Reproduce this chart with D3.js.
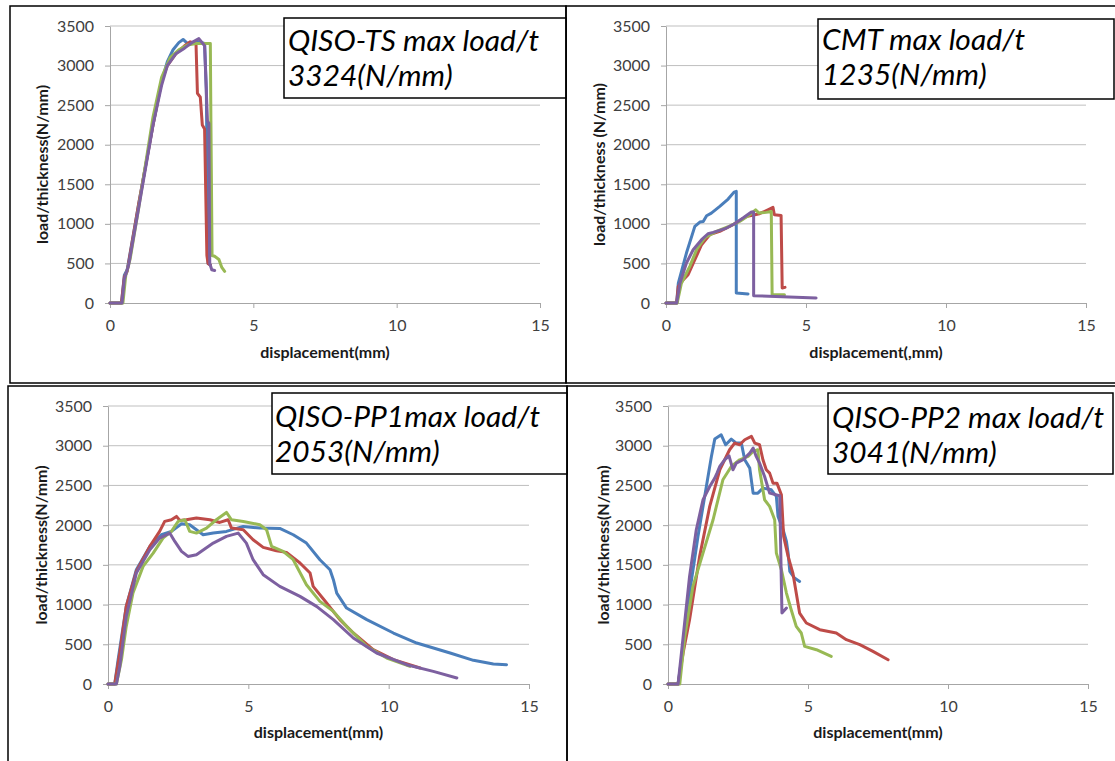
<!DOCTYPE html>
<html>
<head>
<meta charset="utf-8">
<script src="https://cdn.jsdelivr.net/npm/d3@7"></script>
<style>
	body { margin: 0; background: #fff; }
	svg { display: block; font-family: Lato, "Open Sans", sans-serif; }
	.axis .tick text { fill: #404040; font-size: 16px; font-family: Lato, sans-serif; }
	.axis path, .axis line { stroke: #a6a6a6; }
	.grid line { stroke: #bfbfbf; stroke-width: 1; }
	.axis-title { font-weight: bold; font-size: 16px; fill: #1a1a1a; }
	.frame { fill: none; stroke: #000; stroke-width: 1.5; }
	.title-box rect { fill: #fff; stroke: #000; stroke-width: 1.5; }
	.title-box text { font-style: italic; font-size: 29px; fill: #000; }
	.series { fill: none; stroke-width: 3; stroke-linejoin: round; stroke-linecap: round; }
</style>
</head>
<body>
<svg id="chart" width="1115" height="761"></svg>
<script>
// tick labels
const xTicks = [0, 5, 10, 15];
const yTicks = [0, 500, 1000, 1500, 2000, 2500, 3000, 3500];
const seriesColors = ["#4a7ebb", "#be4b48", "#98b954", "#7d60a0"];

// QISO-TS  [displacement, load/thickness]
const tsBlue = [[0,0],[0.4,0],[0.5,350],[0.6,420],[1.0,1250],[1.5,2250],[1.8,2800],[2.0,3050],[2.2,3200],[2.4,3290],[2.55,3330],[2.7,3280],[2.9,3290],[3.1,3300],[3.3,3280],[3.36,2700],[3.42,500],[3.5,480]];
const tsRed = [[0,0],[0.4,0],[0.5,330],[0.6,400],[1.0,1250],[1.5,2250],[1.8,2800],[2.0,3000],[2.3,3150],[2.6,3250],[2.8,3300],[3.0,3280],[3.05,2650],[3.15,2600],[3.22,2250],[3.3,2200],[3.38,600],[3.42,500],[3.5,480]];
const tsGreen = [[0,0],[0.45,0],[0.55,350],[0.7,550],[1.0,1200],[1.5,2350],[1.8,2850],[2.1,3100],[2.4,3200],[2.7,3260],[3.0,3280],[3.5,3280],[3.52,2300],[3.56,600],[3.65,590],[3.8,550],[3.9,450],[4.0,400]];
const tsPurple = [[0,0],[0.42,0],[0.5,300],[0.65,480],[1.0,1200],[1.5,2250],[1.8,2750],[2.0,3000],[2.3,3150],[2.6,3220],[2.9,3300],[3.1,3340],[3.3,3250],[3.4,2300],[3.45,2270],[3.48,500],[3.55,420],[3.65,410]];

// CMT
const cmtBlue = [[0,0],[0.38,0],[0.44,252],[0.73,631],[1.03,968],[1.21,1023],[1.33,1031],[1.45,1103],[1.62,1136],[1.92,1220],[2.22,1313],[2.43,1401],[2.51,1410],[2.51,126],[2.93,114]];
const cmtRed = [[0,0],[0.38,0],[0.44,210],[0.62,295],[0.79,358],[1.03,547],[1.27,736],[1.56,863],[1.92,905],[2.39,989],[2.87,1094],[3.34,1128],[3.64,1178],[3.82,1208],[3.87,1115],[4.11,1107],[4.15,189],[4.25,198]];
const cmtGreen = [[0,0],[0.4,0],[0.55,250],[0.85,463],[1.1,680],[1.4,830],[1.8,905],[2.2,960],[2.63,1031],[2.99,1115],[3.2,1178],[3.32,1136],[3.58,1145],[3.76,1157],[3.79,105],[4.23,105]];
const cmtPurple = [[0,0],[0.38,0],[0.5,252],[0.73,505],[0.97,673],[1.27,800],[1.5,875],[1.68,892],[1.92,917],[2.16,947],[2.45,1002],[2.75,1073],[3.05,1149],[3.13,1149],[3.13,93],[5.36,63]];

// QISO-PP1
const pp1Blue = [[0,0],[0.24,0],[0.36,306],[0.65,977],[1.01,1439],[1.49,1732],[1.9,1879],[2.26,1921],[2.62,2018],[2.91,2005],[3.15,1942],[3.39,1879],[3.75,1900],[4.22,1921],[4.82,1984],[5.41,1963],[6.12,1959],[6.6,1879],[7.07,1774],[7.55,1565],[7.91,1439],[8.03,1313],[8.15,1145],[8.5,956],[9.22,810],[10.17,642],[11.0,516],[12.19,390],[13.02,298],[13.73,252],[14.2,243]];
const pp1Red = [[0,0],[0.24,0],[0.42,390],[0.65,977],[1.01,1418],[1.49,1732],[1.84,1921],[2.02,2047],[2.26,2068],[2.44,2110],[2.56,2060],[2.79,2068],[3.15,2089],[3.63,2068],[3.98,2034],[4.28,2068],[4.4,1963],[4.82,1942],[5.17,1816],[5.53,1720],[6.0,1678],[6.36,1657],[6.84,1523],[7.2,1397],[7.31,1229],[7.79,1019],[8.26,810],[8.74,642],[9.45,432],[10.17,306],[11.12,201]];
const pp1Green = [[0,0],[0.3,0],[0.48,306],[0.65,726],[0.89,1145],[1.25,1481],[1.61,1648],[1.96,1837],[2.26,1921],[2.5,2047],[2.74,2068],[2.91,1921],[3.15,1900],[3.51,1963],[3.86,2068],[4.22,2160],[4.4,2068],[4.82,2047],[5.41,2005],[5.65,1942],[5.83,1732],[6.24,1669],[6.6,1565],[7.07,1250],[7.55,1040],[8.03,914],[8.5,726],[9.22,474],[9.93,327],[10.76,222]];
const pp1Purple = [[0,0],[0.3,0],[0.42,222],[0.65,852],[1.01,1397],[1.49,1690],[1.84,1837],[2.2,1900],[2.38,1795],[2.62,1669],[2.85,1606],[3.15,1627],[3.75,1774],[4.22,1858],[4.64,1900],[4.93,1774],[5.17,1565],[5.53,1376],[6.12,1229],[6.84,1103],[7.43,977],[8.03,810],[8.74,579],[9.57,390],[10.64,243],[11.59,159],[12.43,76]];

// QISO-PP2
const pp2Blue = [[0,0],[0.36,0],[0.48,306],[0.77,1145],[1.07,1858],[1.37,2487],[1.55,2865],[1.67,3083],[1.9,3137],[2.06,3012],[2.26,3083],[2.44,3033],[2.62,3033],[2.74,2823],[2.92,2718],[3.04,2403],[3.21,2403],[3.39,2466],[3.69,2445],[3.87,2362],[3.93,2110],[4.11,1942],[4.23,1795],[4.29,1648],[4.35,1418],[4.52,1334],[4.7,1292]];
const pp2Red = [[0,0],[0.36,0],[0.54,390],[0.77,810],[1.13,1607],[1.49,2236],[1.85,2697],[2.2,2949],[2.38,3033],[2.56,3012],[2.74,3075],[2.98,3117],[3.1,3033],[3.27,3012],[3.39,2823],[3.51,2697],[3.63,2655],[3.75,2529],[3.89,2529],[4.05,2383],[4.13,1858],[4.29,1607],[4.46,1397],[4.58,1145],[4.7,893],[4.94,768],[5.42,684],[6.01,642],[6.37,558],[6.85,495],[7.32,411],[7.86,306]];
const pp2Green = [[0,0],[0.42,0],[0.6,600],[0.89,1229],[1.25,1648],[1.61,2068],[1.96,2571],[2.26,2739],[2.56,2823],[2.86,2865],[3.04,2928],[3.21,2949],[3.27,2697],[3.45,2320],[3.63,2236],[3.81,2068],[3.87,1648],[4.05,1439],[4.23,1145],[4.4,935],[4.58,726],[4.76,642],[4.88,474],[5.3,432],[5.83,348]];
const pp2Purple = [[0,0],[0.36,0],[0.48,390],[0.77,1355],[1.01,1942],[1.25,2320],[1.49,2487],[1.67,2592],[1.75,2655],[1.85,2739],[2.02,2823],[2.18,2873],[2.32,2697],[2.44,2781],[2.68,2823],[2.92,2907],[3.04,2970],[3.15,2865],[3.27,2781],[3.45,2613],[3.63,2403],[3.99,2370],[4.05,1229],[4.07,893],[4.23,956]];

const titles = [
	["QISO-TS max load/t", "3324(N/mm)"],
	["CMT max load/t", "1235(N/mm)"],
	["QISO-PP1max load/t", "2053(N/mm)"],
	["QISO-PP2 max load/t", "3041(N/mm)"]
];
const xTitles = ["displacement(mm)", "displacement(,mm)", "displacement(mm)", "displacement(mm)"];
const yTitles = ["load/thickness(N/mm)", "load/thickness (N/mm)", "load/thickness(N/mm)", "load/thickness(N/mm)"];

const panels = [
	{ series: [tsBlue, tsRed, tsGreen, tsPurple], frame: [10, 6, 556, 377], plot: [110, 540, 303, 26], box: [284, 18, 282, 80], textX: 288, lines: [51, 86], xTitleY: 358, yTitleX: 42 },
	{ series: [cmtBlue, cmtRed, cmtGreen, cmtPurple], frame: [566, 6, 560, 377], plot: [666, 1086, 303, 26], box: [818, 19, 296, 80], textX: 822, lines: [50, 85], xTitleY: 358, yTitleX: 599 },
	{ series: [pp1Blue, pp1Red, pp1Green, pp1Purple], frame: [8, 386, 559, 380], plot: [108, 529, 684, 406], box: [272, 393, 295, 81], textX: 275, lines: [427, 462], xTitleY: 738, yTitleX: 41 },
	{ series: [pp2Blue, pp2Red, pp2Green, pp2Purple], frame: [567, 386, 560, 380], plot: [668, 1088, 684, 406], box: [828, 393, 285, 81], textX: 832, lines: [428, 463], xTitleY: 738, yTitleX: 603 }
];

const svg = d3.select("#chart");

panels.forEach((p, i) => {
	const g = svg.append("g");

	g.append("rect")
		.attr("class", "frame")
		.attr("x", p.frame[0]).attr("y", p.frame[1])
		.attr("width", p.frame[2]).attr("height", p.frame[3]);

	const x = d3.scaleLinear().domain([0, 15]).range([p.plot[0], p.plot[1]]);
	const y = d3.scaleLinear().domain([0, 3500]).range([p.plot[2], p.plot[3]]);

	// horizontal gridlines
	g.append("g").attr("class", "grid")
		.selectAll("line").data(yTicks.slice(1)).join("line")
		.attr("x1", x(0)).attr("x2", x(15))
		.attr("y1", d => y(d)).attr("y2", d => y(d));

	g.append("g").attr("class", "axis")
		.attr("transform", `translate(${x(0)},0)`)
		.call(d3.axisLeft(y).tickValues(yTicks).tickFormat(d3.format("d"))
			.tickSize(5).tickSizeOuter(0).tickPadding(11));

	g.append("g").attr("class", "axis")
		.attr("transform", `translate(0,${y(0)})`)
		.call(d3.axisBottom(x).tickValues(xTicks).tickFormat(d3.format("d"))
			.tickSize(5).tickSizeOuter(0).tickPadding(12));

	const line = d3.line().x(d => x(d[0])).y(d => y(d[1]));
	g.selectAll(".series").data(p.series).join("path")
		.attr("class", "series")
		.attr("stroke", (d, k) => seriesColors[k])
		.attr("d", line);

	g.append("text")
		.attr("class", "axis-title")
		.attr("text-anchor", "middle")
		.attr("x", (x(0) + x(15)) / 2)
		.attr("y", p.xTitleY)
		.text(xTitles[i]);

	g.append("text")
		.attr("class", "axis-title")
		.attr("text-anchor", "middle")
		.attr("transform", `translate(${p.yTitleX},${(y(0) + y(3500)) / 2}) rotate(-90)`)
		.attr("dy", "0.35em")
		.text(yTitles[i]);

	const box = g.append("g").attr("class", "title-box");
	box.append("rect")
		.attr("x", p.box[0]).attr("y", p.box[1])
		.attr("width", p.box[2]).attr("height", p.box[3]);
	box.selectAll("text").data(titles[i]).join("text")
		.attr("x", p.textX)
		.attr("y", (d, k) => p.lines[k])
		.text(d => d);
});

// Calibri is narrower than what we have, so squeeze the titles a little
const probe = svg.select(".title-box text").node();
const squeeze = 251 / probe.getComputedTextLength();
svg.selectAll(".title-box text").each(function () {
	d3.select(this)
		.attr("textLength", this.getComputedTextLength() * squeeze)
		.attr("lengthAdjust", "spacingAndGlyphs");
});
</script>
</body>
</html>
